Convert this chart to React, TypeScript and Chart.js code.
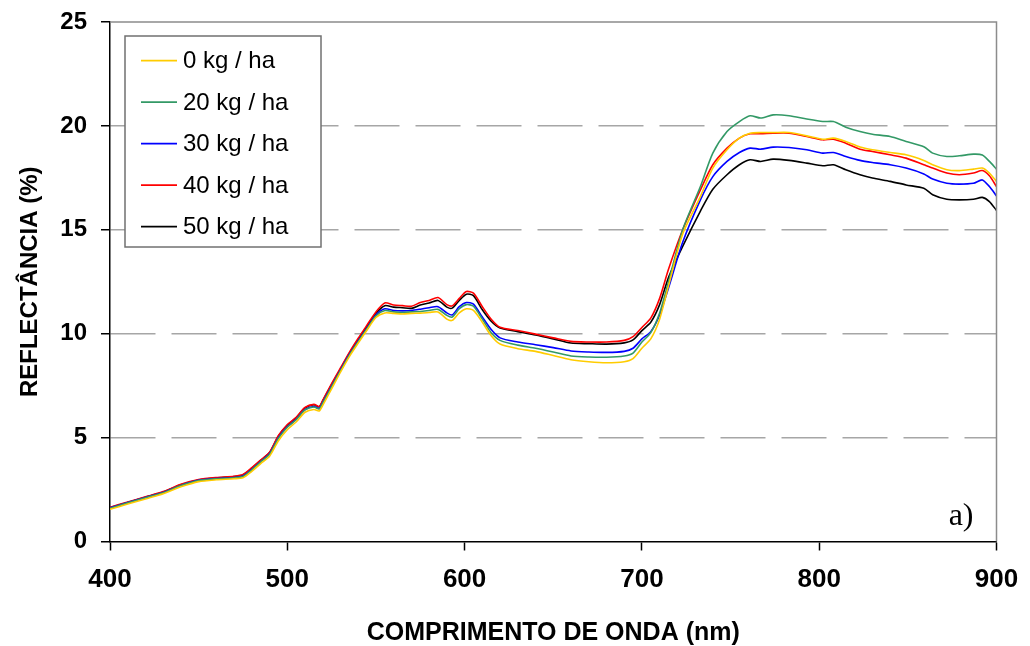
import { useEffect, useRef } from "react";
import { Chart, registerables } from "chart.js";

Chart.register(...registerables);

// Wavelength sampling (nm)
const wavelengths = [
  400, 410, 420, 430, 440, 450, 460, 470,
  475, 480, 485, 490, 495, 500, 505, 510, 515, 518, 520, 525, 530, 535, 540, 545, 550, 555, 560, 565, 570, 575, 580, 585, 590, 593, 597, 601, 605, 610, 615, 620,
  630, 640, 650, 660, 670, 680, 690, 695, 700, 705, 710, 715,
  723, 733, 740, 748, 755, 761, 767, 774, 783, 793, 802, 808, 815, 823, 830, 840, 849, 859, 864, 872, 879, 887, 892, 896, 900,
];

const seriesLabels = ["0 kg / ha", "20 kg / ha", "30 kg / ha", "40 kg / ha", "50 kg / ha"];
const seriesColors = ["#FFCC00", "#339966", "#0000FF", "#FF0000", "#000000"];

const refl0 = [
  1.55, 1.8, 2.05, 2.3, 2.63, 2.88, 2.97, 3.02,
  3.07, 3.38, 3.75, 4.1, 4.85, 5.38, 5.75, 6.22, 6.35, 6.28, 6.55, 7.35, 8.15, 8.9, 9.55, 10.18, 10.78, 11.0, 10.98, 10.95, 10.98, 10.99, 11.02, 11.05, 10.7, 10.64, 11.0, 11.2, 11.12, 10.55, 9.9, 9.5,
  9.28, 9.15, 8.95, 8.75, 8.65, 8.6, 8.65, 8.8, 9.3, 9.75, 10.7, 12.3,
  14.8, 16.6, 17.97, 18.85, 19.41, 19.65, 19.68, 19.68, 19.68, 19.52, 19.36, 19.41, 19.25, 18.98, 18.85, 18.72, 18.61, 18.34, 18.13, 17.89, 17.85, 17.92, 17.97, 17.73, 17.33,
];

const refl20 = [
  1.6, 1.86, 2.11, 2.35, 2.69, 2.93, 3.02, 3.07,
  3.13, 3.45, 3.83, 4.2, 4.97, 5.5, 5.86, 6.33, 6.47, 6.38, 6.67, 7.45, 8.22, 8.97, 9.62, 10.25, 10.86, 11.12, 11.05, 11.02, 11.05, 11.07, 11.12, 11.17, 10.88, 10.8, 11.2, 11.4, 11.32, 10.7, 10.05, 9.68,
  9.45, 9.3, 9.12, 8.93, 8.88, 8.87, 8.93, 9.07, 9.6, 10.05, 11.0, 12.5,
  15.0, 17.08, 18.69, 19.73, 20.21, 20.49, 20.38, 20.53, 20.49, 20.33, 20.21, 20.21, 19.94, 19.73, 19.6, 19.49, 19.25, 19.0, 18.69, 18.53, 18.56, 18.64, 18.6, 18.29, 17.92,
];

const refl30 = [
  1.62, 1.87, 2.12, 2.36, 2.7, 2.94, 3.03, 3.08,
  3.15, 3.47, 3.85, 4.22, 5.0, 5.52, 5.88, 6.35, 6.5, 6.4, 6.7, 7.48, 8.25, 9.0, 9.65, 10.28, 10.9, 11.2, 11.12, 11.1, 11.12, 11.18, 11.25, 11.3, 11.0, 10.9, 11.3, 11.5, 11.42, 10.8, 10.2, 9.8,
  9.6, 9.47, 9.33, 9.17, 9.12, 9.1, 9.15, 9.3, 9.75, 10.1, 10.9, 12.2,
  14.4, 16.44, 17.56, 18.29, 18.72, 18.93, 18.88, 18.98, 18.96, 18.85, 18.69, 18.72, 18.53, 18.34, 18.24, 18.13, 17.97, 17.69, 17.44, 17.24, 17.2, 17.24, 17.4, 17.08, 16.63,
];

const refl40 = [
  1.65, 1.9, 2.15, 2.4, 2.75, 2.98, 3.08, 3.14,
  3.22, 3.55, 3.92, 4.3, 5.1, 5.62, 5.97, 6.45, 6.6, 6.5, 6.8, 7.6, 8.35, 9.1, 9.78, 10.42, 11.05, 11.48, 11.38, 11.35, 11.32, 11.5, 11.6, 11.74, 11.4, 11.34, 11.7, 12.03, 11.95, 11.3, 10.7, 10.31,
  10.15, 9.98, 9.8, 9.63, 9.6, 9.6, 9.68, 9.86, 10.3, 10.75, 11.7, 13.1,
  15.0, 16.92, 18.13, 18.93, 19.41, 19.62, 19.62, 19.65, 19.65, 19.49, 19.33, 19.36, 19.17, 18.88, 18.77, 18.61, 18.45, 18.13, 17.97, 17.73, 17.65, 17.73, 17.85, 17.6, 17.08,
];

const refl50 = [
  1.63, 1.88, 2.13, 2.38, 2.73, 2.96, 3.06, 3.12,
  3.2, 3.52, 3.9, 4.28, 5.07, 5.6, 5.95, 6.43, 6.58, 6.48, 6.77, 7.55, 8.3, 9.05, 9.72, 10.36, 10.98, 11.35, 11.28, 11.25, 11.22, 11.38, 11.48, 11.6, 11.28, 11.23, 11.6, 11.9, 11.83, 11.15, 10.6, 10.27,
  10.1, 9.94, 9.75, 9.55, 9.52, 9.5, 9.56, 9.7, 10.15, 10.55, 11.4, 12.7,
  14.2, 15.9, 16.95, 17.65, 18.13, 18.37, 18.29, 18.4, 18.34, 18.21, 18.08, 18.13, 17.89, 17.65, 17.49, 17.33, 17.16, 17.0, 16.69, 16.47, 16.44, 16.47, 16.56, 16.36, 15.93,
];

const seriesValues = [refl0, refl20, refl30, refl40, refl50];

const xMin = 400;
const xMax = 900;
const xStep = 100;
const yMin = 0;
const yMax = 25;
const yStep = 5;

const xTitle = "COMPRIMENTO DE ONDA (nm)";
const yTitle = "REFLECTÂNCIA (%)";
const panelLabel = "a)";

const SANS = "'Liberation Sans', Arial, Helvetica, sans-serif";
const SERIF = "'Liberation Serif', 'Times New Roman', serif";

const framePlugin = {
  id: "frameAndLegend",
  afterDatasetsDraw(chart: any) {
    const ctx = chart.ctx as CanvasRenderingContext2D;
    const { left, right, top, bottom } = chart.chartArea;
    ctx.save();
    // top and right gray frame
    ctx.strokeStyle = "#8c8c8c";
    ctx.lineWidth = 1.5;
    ctx.beginPath();
    ctx.moveTo(left, top);
    ctx.lineTo(right, top);
    ctx.lineTo(right, bottom);
    ctx.stroke();

    // boxed legend
    const bx = left + 15;
    const by = top + 14;
    const bw = 196;
    const bh = 211;
    ctx.fillStyle = "#ffffff";
    ctx.fillRect(bx, by, bw, bh);
    ctx.strokeStyle = "#707070";
    ctx.lineWidth = 1.5;
    ctx.strokeRect(bx, by, bw, bh);
    chart.data.datasets.forEach((ds: any, i: number) => {
      const y = by + 24.7 + i * 41.5;
      ctx.strokeStyle = ds.borderColor;
      ctx.lineWidth = 1.8;
      ctx.beginPath();
      ctx.moveTo(bx + 16, y);
      ctx.lineTo(bx + 52, y);
      ctx.stroke();
      ctx.fillStyle = "#000";
      ctx.font = `24px ${SANS}`;
      ctx.textAlign = "left";
      ctx.textBaseline = "middle";
      ctx.fillText(ds.label, bx + 58, y + 1);
    });

    // panel label
    ctx.font = `32px ${SERIF}`;
    ctx.fillStyle = "#000";
    ctx.textAlign = "right";
    ctx.textBaseline = "alphabetic";
    ctx.fillText(panelLabel, right - 23, bottom - 17);
    ctx.restore();
  },
};

export default function App() {
  const canvasRef = useRef<HTMLCanvasElement | null>(null);

  useEffect(() => {
    const canvas = canvasRef.current;
    if (!canvas) return;
    const datasets = seriesLabels.map((label, i) => ({
      label,
      data: wavelengths.map((w, j) => ({ x: w, y: seriesValues[i][j] })),
      borderColor: seriesColors[i],
      backgroundColor: seriesColors[i],
      borderWidth: 1.6,
      pointRadius: 0,
      tension: 0.25,
      fill: false,
    }));

    const chart = new Chart(canvas, {
      type: "line",
      data: { datasets },
      plugins: [framePlugin],
      options: {
        animation: false,
        responsive: false,
        devicePixelRatio: 1,
        layout: { padding: { left: 0, right: 33.5, top: 22, bottom: 0 } },
        plugins: {
          legend: { display: false },
          tooltip: { enabled: false },
        },
        scales: {
          x: {
            type: "linear",
            min: xMin,
            max: xMax,
            ticks: {
              stepSize: xStep,
              color: "#000",
              font: { family: SANS, size: 26, weight: "bold" },
              padding: 14,
              maxRotation: 0,
            },
            grid: {
              drawOnChartArea: false,
              drawTicks: true,
              tickLength: 9,
              tickColor: "#000",
              tickWidth: 1.5,
              tickBorderDash: [],
            },
            border: { display: true, color: "#000", width: 1.5 },
            title: {
              display: true,
              text: xTitle,
              color: "#000",
              font: { family: SANS, size: 25, weight: "bold", lineHeight: 1.0 },
              padding: { top: 0, bottom: 0 },
            },
            afterFit: (scale: any) => {
              scale.height = 104.5;
              scale.paddingLeft = 0;
              scale.paddingRight = 0;
            },
          },
          y: {
            type: "linear",
            min: yMin,
            max: yMax,
            ticks: {
              stepSize: yStep,
              color: "#000",
              font: { family: SANS, size: 24, weight: "bold" },
              padding: 14,
            },
            grid: {
              drawOnChartArea: true,
              drawTicks: true,
              tickLength: 9,
              tickColor: "#000",
              tickWidth: 1.5,
              tickBorderDash: [],
              lineWidth: 1.5,
              color: (ctx: any) => {
                const v = ctx.tick ? ctx.tick.value : null;
                return v === yMin || v === yMax ? "rgba(0,0,0,0)" : "#a6a6a6";
              },
            },
            border: { display: true, color: "#000", width: 1.5, dash: [45, 16] },
            title: {
              display: true,
              text: yTitle,
              color: "#000",
              font: { family: SANS, size: 24, weight: "bold", lineHeight: 1.2 },
              padding: { top: 16, bottom: 0 },
            },
            afterFit: (scale: any) => {
              scale.width = 110;
              scale.paddingTop = 0;
              scale.paddingBottom = 0;
            },
          },
        },
      },
    } as any);

    return () => chart.destroy();
  }, []);

  return (
    <div style={{ position: "fixed", left: 0, top: 0, width: 1030, height: 646, background: "#fff" }}>
      <canvas ref={canvasRef} width={1030} height={646} style={{ display: "block" }} />
    </div>
  );
}
